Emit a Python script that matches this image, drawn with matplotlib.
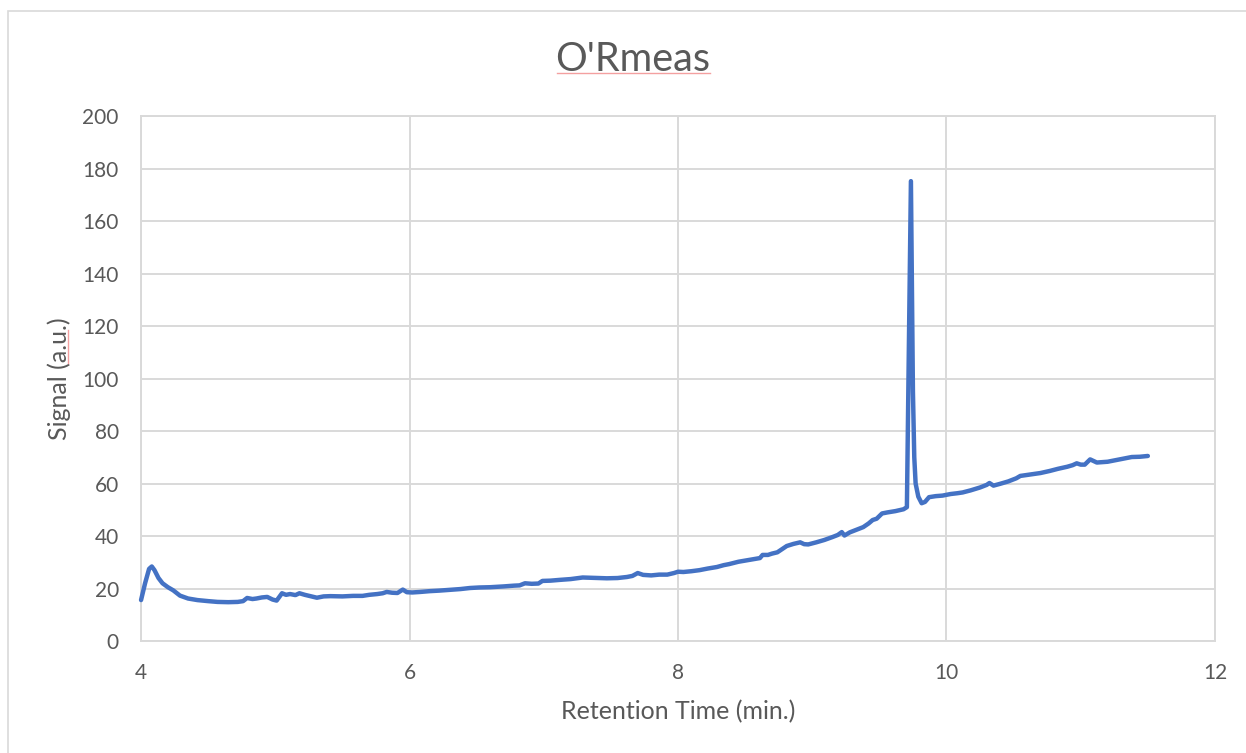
# chromatogram plot of O'Rmeas run
# -----------------------------------------------------------------------------
import matplotlib.pyplot as plt
from matplotlib.lines import Line2D
from matplotlib.patches import Rectangle

# -----------------------------------------------------------------------------
## --- section_a: chromatogram data ---
ttl = "O'Rmeas"
xlbl, ylbl = 'Retention Time (min.)', 'Signal (a.u.)'
xtck = [4, 6, 8, 10, 12]
ytck = [0, 20, 40, 60, 80, 100, 120, 140, 160, 180, 200]
rtm = [  # (min) retention time
    4.00, 4.03, 4.06, 4.08, 4.10, 4.13, 4.16, 4.20, 4.24, 4.29,
    4.35, 4.42, 4.50, 4.57, 4.65, 4.72, 4.76, 4.79, 4.83, 4.86,
    4.90, 4.94, 4.98, 5.01, 5.05, 5.08, 5.11, 5.15, 5.18, 5.22,
    5.27, 5.31, 5.36, 5.41, 5.50, 5.58, 5.65, 5.70, 5.76, 5.80,
    5.83, 5.87, 5.91, 5.95, 5.98, 6.02, 6.08, 6.15, 6.22, 6.30,
    6.38, 6.45, 6.52, 6.60, 6.70, 6.78, 6.82, 6.86, 6.91, 6.96,
    6.99, 7.05, 7.12, 7.20, 7.29, 7.35, 7.42, 7.47, 7.55, 7.62,
    7.66, 7.70, 7.74, 7.80, 7.86, 7.92, 7.97, 8.00, 8.04, 8.10,
    8.16, 8.22, 8.29, 8.34, 8.38, 8.45, 8.52, 8.58, 8.61, 8.63,
    8.67, 8.70, 8.74, 8.78, 8.81, 8.86, 8.91, 8.94, 8.97, 9.03,
    9.09, 9.15, 9.19, 9.22, 9.24, 9.28, 9.33, 9.38, 9.42, 9.45,
    9.48, 9.52, 9.56, 9.62, 9.68, 9.705, 9.735, 9.750, 9.760, 9.770,
    9.790, 9.815, 9.84, 9.87, 9.92, 9.97, 10.03, 10.08, 10.12, 10.18,
    10.25, 10.30, 10.32, 10.35, 10.40, 10.46, 10.52, 10.55, 10.62, 10.70,
    10.77, 10.83, 10.90, 10.94, 10.97, 11.00, 11.03, 11.07, 11.12, 11.20,
    11.27, 11.33, 11.38, 11.44, 11.50]
sgn = [  # (a.u.) detector signal
    15.6, 22.0, 27.5, 28.4, 27.0, 24.0, 22.0, 20.5, 19.3, 17.3,
    16.2, 15.6, 15.2, 14.9, 14.8, 14.9, 15.2, 16.4, 16.0, 16.2,
    16.6, 16.8, 15.8, 15.4, 18.2, 17.6, 17.9, 17.5, 18.2, 17.6,
    17.0, 16.5, 17.0, 17.1, 17.0, 17.2, 17.2, 17.6, 17.9, 18.2,
    18.7, 18.4, 18.3, 19.6, 18.6, 18.5, 18.7, 19.0, 19.2, 19.5,
    19.8, 20.2, 20.4, 20.5, 20.8, 21.1, 21.2, 22.0, 21.8, 21.9,
    22.9, 23.0, 23.3, 23.6, 24.2, 24.1, 24.0, 23.9, 24.0, 24.4,
    24.8, 25.9, 25.2, 25.0, 25.3, 25.3, 25.9, 26.4, 26.3, 26.6,
    27.0, 27.6, 28.2, 28.9, 29.3, 30.2, 30.8, 31.3, 31.6, 32.8,
    32.8, 33.3, 33.8, 35.2, 36.2, 37.0, 37.6, 36.9, 36.8, 37.6,
    38.5, 39.6, 40.4, 41.5, 40.2, 41.4, 42.4, 43.4, 44.8, 46.1,
    46.6, 48.6, 49.0, 49.5, 50.2, 51.0, 175.2, 95.0, 70.0, 60.0,
    55.0, 52.5, 53.0, 54.8, 55.2, 55.4, 56.0, 56.3, 56.6, 57.4,
    58.5, 59.5, 60.2, 59.2, 59.9, 60.8, 62.0, 62.9, 63.4, 64.0,
    64.8, 65.6, 66.4, 67.0, 67.7, 67.2, 67.2, 69.2, 68.0, 68.3,
    69.0, 69.6, 70.1, 70.2, 70.5]

# -----------------------------------------------------------------------------
## --- section_b: setting figure ---
txtc, grdc = '#595959', '#D9D9D9'
plt.rcdefaults()
plt.rcParams['font.family'] = ['Lato', 'DejaVu Sans']
fig = plt.figure(figsize=(12.46, 7.53), dpi=100)
fig.add_artist(Rectangle((0.0064, -0.05), 1.2, 1.0354, transform=fig.transFigure,
                         facecolor='none', edgecolor=grdc, linewidth=1.2))
ax = fig.add_axes([0.1132, 0.1487, 0.8619, 0.6972])
ax.set_xlim(4, 12); ax.set_ylim(0, 200)
ax.set_xticks(xtck); ax.set_yticks(ytck)
ax.grid(True, color=grdc, linewidth=1.4)
ax.set_axisbelow(True)
for sp in ax.spines.values():
    sp.set_color(grdc); sp.set_linewidth(1.4)
ax.tick_params(length=0, pad=16, labelsize=15, labelcolor=txtc)
ax.set_xlabel(xlbl, fontsize=18, color=txtc, labelpad=12)
ax.set_ylabel(ylbl, fontsize=18, color=txtc, labelpad=8)
fig.text(0.508, 0.921, ttl, ha='center', va='center', fontsize=28.5, color=txtc)

# -----------------------------------------------------------------------------
## --- section_c: drawing chromatogram ---
ax.plot(rtm, sgn, color='#4472C4', linewidth=3.2, solid_joinstyle='round',
        solid_capstyle='round', clip_on=False, zorder=3)

# proofing marks under title and unit
fig.add_artist(Line2D([557/1246, 710/1246], [1-73/753, 1-73/753],
                      transform=fig.transFigure, color='#F4A0A0', linewidth=1.0))
fig.add_artist(Line2D([68/1246, 68/1246], [1-330/753, 1-363/753],
                      transform=fig.transFigure, color='#F4A0A0', linewidth=1.0))

# -----------------------------------------------------------------------------
## --- section_d: saving figure ---
fig.savefig('out.png', dpi=100)
